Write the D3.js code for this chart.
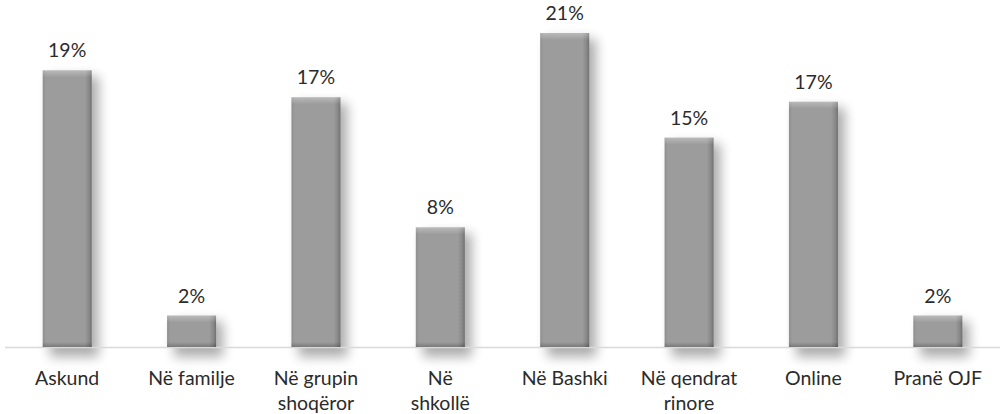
<!DOCTYPE html>
<html>
<head>
<meta charset="utf-8">
<script src="https://cdn.jsdelivr.net/npm/d3@7"></script>
<style>
  html, body { margin: 0; padding: 0; background: #fff; }
  svg { display: block; }
  text { font-family: Lato, "Open Sans", sans-serif; fill: #2b2b2b; }
</style>
</head>
<body>
<svg id="chart" width="1000" height="414"></svg>
<script>
// ---- data ----
const categories = ["Askund", "Në familje", "Në grupin\nshoqëror", "Në\nshkollë", "Në Bashki", "Në qendrat\nrinore", "Online", "Pranë OJF"];
const values = [18.5, 2.1, 16.7, 8.0, 21.0, 14.0, 16.4, 2.1];
const valueLabels = ["19%", "2%", "17%", "8%", "21%", "15%", "17%", "2%"];

// ---- layout ----
const W = 1000, H = 414;
const baseY = 347, topY = 33;
const svg = d3.select("#chart");

const x = d3.scaleBand().domain(categories).range([5, 1000]).paddingInner(0.606).paddingOuter(0.303);
const y = d3.scaleLinear().domain([0, 21]).range([baseY, topY]);

const defs = svg.append("defs");
const f = defs.append("filter").attr("id", "shadow").attr("x", "-50%").attr("y", "-50%").attr("width", "200%").attr("height", "200%");
f.append("feGaussianBlur").attr("stdDeviation", 6);

const hg = defs.append("linearGradient").attr("id", "hgrad").attr("x1", 0).attr("x2", 1).attr("y1", 0).attr("y2", 0);
[[0, "#8f8f8f"], [0.07, "#9c9c9c"], [0.86, "#9c9c9c"], [0.95, "#878787"], [1, "#707070"]].forEach(([o, c]) =>
  hg.append("stop").attr("offset", o).attr("stop-color", c));
const tg = defs.append("linearGradient").attr("id", "tgrad").attr("x1", 0).attr("x2", 0).attr("y1", 0).attr("y2", 1);
tg.append("stop").attr("offset", 0).attr("stop-color", "#fff").attr("stop-opacity", 0.3);
tg.append("stop").attr("offset", 1).attr("stop-color", "#fff").attr("stop-opacity", 0);
const bg = defs.append("linearGradient").attr("id", "bgrad").attr("x1", 0).attr("x2", 0).attr("y1", 0).attr("y2", 1);
bg.append("stop").attr("offset", 0).attr("stop-color", "#000").attr("stop-opacity", 0);
bg.append("stop").attr("offset", 1).attr("stop-color", "#000").attr("stop-opacity", 0.22);

const data = categories.map((c, i) => ({ c, v: values[i], label: valueLabels[i] }));

// shadows
svg.append("g").selectAll("rect").data(data).join("rect")
  .attr("x", d => x(d.c) + 7)
  .attr("y", d => y(d.v) + 6)
  .attr("width", x.bandwidth())
  .attr("height", d => baseY - y(d.v) + 4)
  .attr("fill", "#000").attr("opacity", 0.32)
  .attr("filter", "url(#shadow)");

// axis line
svg.append("line").attr("x1", 5).attr("x2", 1000).attr("y1", baseY + 0.5).attr("y2", baseY + 0.5)
  .attr("stroke", "#d9d9d9").attr("stroke-width", 1.5);

// bars
const bars = svg.append("g").selectAll("g").data(data).join("g");
bars.append("rect")
  .attr("x", d => x(d.c)).attr("y", d => y(d.v))
  .attr("width", x.bandwidth()).attr("height", d => baseY - y(d.v))
  .attr("fill", "url(#hgrad)");
bars.append("rect")
  .attr("x", d => x(d.c)).attr("y", d => y(d.v))
  .attr("width", x.bandwidth()).attr("height", 7)
  .attr("fill", "url(#tgrad)");
bars.append("rect")
  .attr("x", d => x(d.c)).attr("y", baseY - 5)
  .attr("width", x.bandwidth()).attr("height", 5)
  .attr("fill", "url(#bgrad)");

// value labels
svg.append("g").selectAll("text").data(data).join("text")
  .attr("x", d => x(d.c) + x.bandwidth() / 2)
  .attr("y", d => y(d.v) - 13)
  .attr("text-anchor", "middle")
  .attr("font-size", 19.5)
  .text(d => d.label);

// category labels
const cl = svg.append("g").selectAll("text").data(data).join("text")
  .attr("x", d => x(d.c) + x.bandwidth() / 2)
  .attr("y", 385)
  .attr("text-anchor", "middle")
  .attr("font-size", 19.5);
cl.selectAll("tspan").data(d => d.c.split("\n").map(t => ({ t, cx: x(d.c) + x.bandwidth() / 2 }))).join("tspan")
  .attr("x", d => d.cx)
  .attr("dy", (d, i) => i === 0 ? 0 : 24.5)
  .text(d => d.t);
</script>
</body>
</html>
